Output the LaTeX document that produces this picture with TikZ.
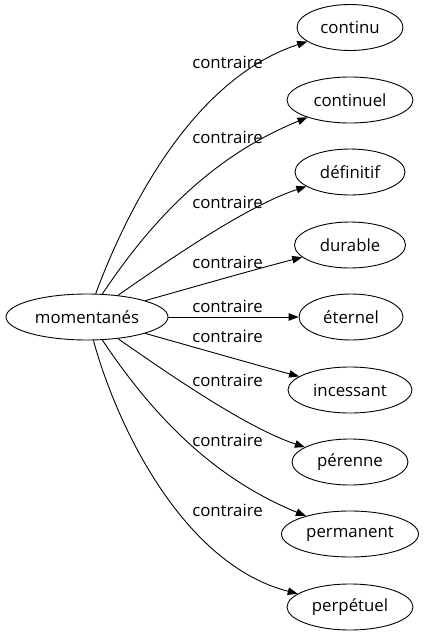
\documentclass[tikz,border=0pt]{standalone}
\usepackage{fontspec}
\setmainfont{Open Sans}
\usetikzlibrary{shapes.geometric,arrows.meta}
\begin{document}
\begin{tikzpicture}[x=1pt,y=-1pt,
  every node/.style={font=\fontsize{16.8}{20}\selectfont},
  wnode/.style={ellipse, draw, line width=0.9pt, minimum width=#1, minimum height=46pt, inner sep=1pt},
  edge/.style={line width=0.9pt, -{Triangle[length=10pt,width=7.5pt]}},
  lbl/.style={inner sep=0pt}]
\useasboundingbox (0,0) rectangle (424,635);
\node[wnode=162] (src) at (87,317) {momentanés};
\node[wnode=106] (n1) at (350,27.5) {continu};
\node[wnode=126] (n2) at (350,100) {continuel};
\node[wnode=110] (n3) at (350,172) {définitif};
\node[wnode=111] (n4) at (350,245) {durable};
\node[wnode=104] (n5) at (351,317) {éternel};
\node[wnode=124] (n6) at (350,390) {incessant};
\node[wnode=116] (n7) at (350,462) {pérenne};
\node[wnode=137] (n8) at (350,534) {permanent};
\node[wnode=126] (n9) at (350,607) {perpétuel};
\draw[edge] (src) .. controls (125,215) and (190,80) .. (n1);
\draw[edge] (src) .. controls (157,212) and (218,154) .. (n2);
\draw[edge] (src) .. controls (180,252) and (250,205) .. (n3);
\draw[edge] (src) .. controls (190,288) and (260,268) .. (n4);
\draw[edge] (src) -- (n5);
\draw[edge] (src) .. controls (190,346) and (260,366) .. (n6);
\draw[edge] (src) .. controls (180,382) and (250,429) .. (n7);
\draw[edge] (src) .. controls (157,422) and (218,480) .. (n8);
\draw[edge] (src) .. controls (118,430) and (185,565) .. (n9);
\node[lbl] (l1) at (227.5,62) {contraire};
\node[lbl] (l2) at (227.5,137) {contraire};
\node[lbl] (l3) at (227.5,202) {contraire};
\node[lbl] (l4) at (227.5,262) {contraire};
\node[lbl] (l5) at (227.5,306) {contraire};
\node[lbl] (l6) at (227.5,336) {contraire};
\node[lbl] (l7) at (227.5,380) {contraire};
\node[lbl] (l8) at (227.5,440) {contraire};
\node[lbl] (l9) at (227.5,510) {contraire};
\end{tikzpicture}
\end{document}
